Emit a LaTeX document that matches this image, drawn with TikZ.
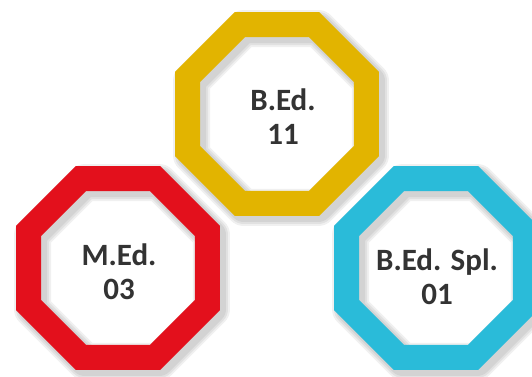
\documentclass[tikz,border=0pt]{standalone}
\usepackage{fontspec}
\setmainfont{Carlito}
\usetikzlibrary{shapes.geometric}
\definecolor{ringyellow}{HTML}{E2B400}
\definecolor{ringred}{HTML}{E3101C}
\definecolor{ringcyan}{HTML}{2ABBD9}
\definecolor{labelgray}{HTML}{333333}
\tikzset{
  ring/.style={regular polygon, regular polygon sides=8, minimum size=193.7pt,
    inner sep=0pt, line width=25pt, line join=miter, draw=#1},
  ringshadow/.style={regular polygon, regular polygon sides=8, minimum size=193.7pt,
    inner sep=0pt, line width=#1, line join=round, draw=black, draw opacity=0.06},
  label/.style={align=center, text=labelgray, font=\fontsize{31}{34}\selectfont\bfseries}
}
\begin{document}
\begin{tikzpicture}[x=1pt,y=-1pt]
\useasboundingbox (0,0) rectangle (532,376);
\fill[white] (0,0) rectangle (532,376);
% shadows
\foreach \w in {37pt,33pt,29pt}{
  \node[ringshadow=\w] at (281,118) {};
  \node[ringshadow=\w] at (122,272) {};
  \node[ringshadow=\w] at (440,272) {};
}
% rings
\node[ring=ringyellow] (yellowring) at (277,114) {};
\node[ring=ringred] (redring) at (118,268) {};
\node[ring=ringcyan] (cyanring) at (436,268) {};
% labels
\node[label] (bed) at (283,117) {B.Ed.\\11};
\node[label] (med) at (119,272) {M.Ed.\\03};
\node[label] (bedspl) at (437,277) {B.Ed. Spl.\\01};
\end{tikzpicture}
\end{document}
